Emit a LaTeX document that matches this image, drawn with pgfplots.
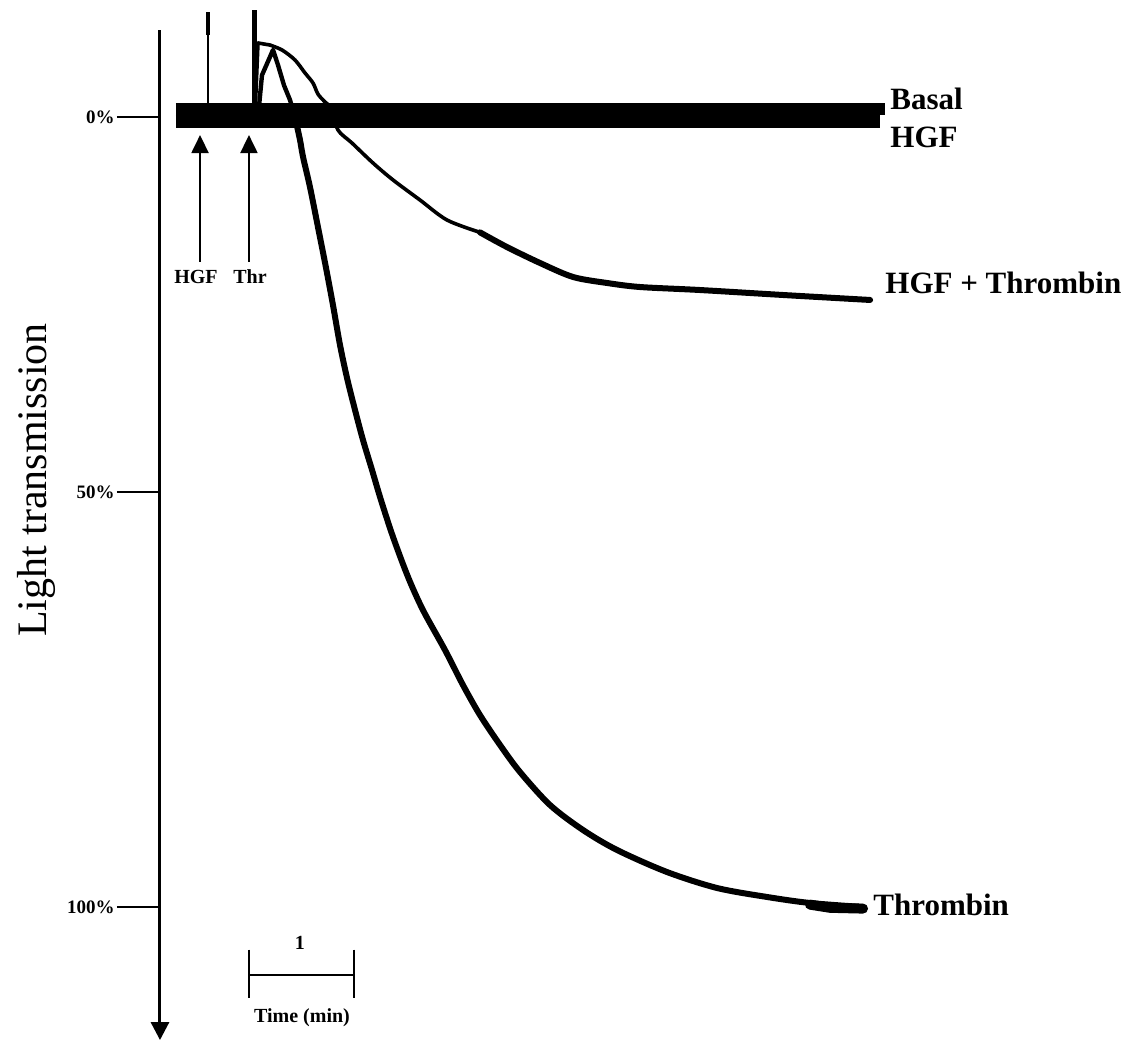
\documentclass[border=0pt]{standalone}
\usepackage{fontspec}
\setmainfont{Liberation Serif}
\usepackage{pgfplots}
\pgfplotsset{compat=1.18}
\usetikzlibrary{arrows.meta}
\begin{document}
\begin{tikzpicture}
\begin{axis}[
  scale only axis, width=486.5pt, height=505pt,
  xmin=-0.1524, xmax=9.114, ymin=-11.01, ymax=116.84, y dir=reverse,
  axis x line=none, axis y line=left,
  axis line style={line width=1.5pt},
  y axis line style={-{Triangle[width=9pt,length=9pt]}},
  ytick={0,47.47,100}, yticklabels={\textbf{0\%},\textbf{50\%},\textbf{100\%}},
  tick align=outside, major tick length=21.5pt,
  ytick style={line width=0.7pt, black},
  yticklabel style={font=\fontsize{9.5}{11}\selectfont, inner sep=1pt},
  clip=false,
  every axis plot/.append style={line join=round, line cap=round},
]
% Thrombin
\addplot[line width=2.2pt, black] coordinates {
(0.05,0)(0.781,0)(0.819,-5.3)(0.895,-7.6)(0.924,-8.5)(0.971,-6.6)(1.029,-4.0)(1.086,-2.15)(1.133,0)};
\addplot[line width=3pt, black, smooth, tension=0.5] coordinates {
(1.133,0)(1.181,2.9)(1.210,5.06)(1.276,8.86)(1.352,13.92)(1.429,19.11)(1.495,23.80)
(1.562,28.86)(1.629,33.04)(1.705,37.09)(1.781,40.89)(1.867,44.68)(1.952,48.48)(2.067,53.16)
(2.210,58.23)(2.352,62.41)(2.562,67.47)(2.733,71.90)(2.895,75.70)(3.086,79.49)(3.276,82.91)
(3.562,87.09)(3.876,90.25)(4.200,92.78)(4.676,95.57)(5.152,97.59)(5.629,98.73)(6.038,99.49)(6.543,100.0)};
\addplot[line width=5pt, black] coordinates {(6.038,99.7)(6.229,100.1)(6.543,100.2)};
% HGF + Thrombin
\addplot[line width=1.8pt, black] coordinates {
(0.05,0)(0.752,0)(0.781,-9.37)(0.895,-9.11)};
\addplot[line width=1.8pt, black, smooth, tension=0.5] coordinates {
(0.895,-9.11)(1.010,-8.48)(1.133,-7.22)(1.229,-5.57)(1.305,-4.30)
(1.352,-2.9)(1.419,-1.9)(1.486,-1.0)(1.543,1.65)(1.676,3.29)(1.876,5.82)
(2.067,7.97)(2.324,10.51)(2.581,13.04)(2.895,14.60)};
\addplot[line width=3pt, black, smooth, tension=0.5] coordinates {
(2.895,14.60)(3.152,16.46)(3.467,18.48)(3.781,20.25)(4.105,21.01)(4.419,21.52)(4.990,21.90)
(5.781,22.53)(6.610,23.16)};
% Basal and HGF
\addplot[line width=6pt, black, line cap=butt] coordinates {(0,-1.01)(3.0,-1.01)(6.752,-1.01)};
\addplot[line width=6.5pt, black, line cap=butt] coordinates {(0,0.51)(3.0,0.51)(6.705,0.51)};
% injection artefacts
\addplot[line width=0.6pt, black] coordinates {(0.305,-0.89)(0.305,-10.38)};
\addplot[line width=2pt, black, line cap=butt] coordinates {(0.305,-10.38)(0.305,-13.29)};
\addplot[line width=2.5pt, black, line cap=butt] coordinates {(0.752,0)(0.752,-13.54)};
% arrows for additions
\draw[line width=1pt,-{Triangle[width=8.5pt,length=9pt]}] (axis cs:0.229,18.35) -- (axis cs:0.229,2.28);
\draw[line width=1pt,-{Triangle[width=8.5pt,length=9pt]}] (axis cs:0.695,18.35) -- (axis cs:0.695,2.28);
\node[font=\fontsize{10}{12}\selectfont\bfseries] at (axis cs:0.190,20.25) {HGF};
\node[font=\fontsize{10}{12}\selectfont\bfseries] at (axis cs:0.705,20.25) {Thr};
% series labels
\node[anchor=base west, inner sep=0pt, font=\fontsize{15.5}{18}\selectfont\bfseries] at (axis cs:6.8,-0.89) {Basal};
\node[anchor=base west, inner sep=0pt, font=\fontsize{15.5}{18}\selectfont\bfseries] at (axis cs:6.8,3.92) {HGF};
\node[anchor=base west, inner sep=0pt, font=\fontsize{15.5}{18}\selectfont\bfseries] at (axis cs:6.752,22.28) {HGF + Thrombin};
\node[anchor=base west, inner sep=0pt, font=\fontsize{15.5}{18}\selectfont\bfseries] at (axis cs:6.638,101.01) {Thrombin};
% y label
\node[rotate=90, font=\fontsize{21}{25}\selectfont] at (axis cs:-1.333,45.95) {Light transmission};
% time scale bar
\draw[line width=0.8pt] (axis cs:0.695,108.6) -- (axis cs:1.695,108.6);
\draw[line width=0.8pt] (axis cs:0.695,105.4) -- (axis cs:0.695,111.5);
\draw[line width=0.8pt] (axis cs:1.695,105.4) -- (axis cs:1.695,111.5);
\node[font=\fontsize{10}{12}\selectfont\bfseries] at (axis cs:1.181,104.6) {1};
\node[font=\fontsize{10}{12}\selectfont\bfseries] at (axis cs:1.2,114.05) {Time (min)};
\coordinate (bbA) at (axis cs:-1.676,-14.81);
\coordinate (bbB) at (axis cs:9.114,117.59);
\end{axis}
\pgfresetboundingbox
\useasboundingbox (bbA) rectangle (bbB);
\end{tikzpicture}
\end{document}
